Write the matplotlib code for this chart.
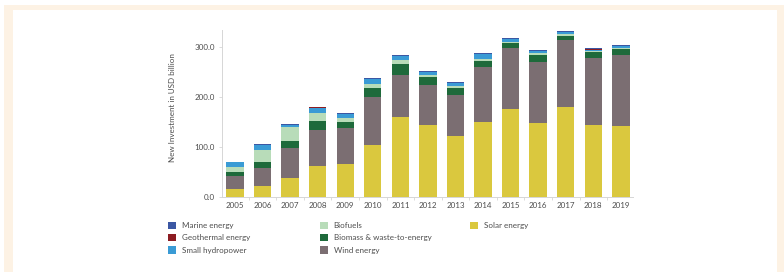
import numpy as np
import matplotlib.pyplot as plt
from matplotlib.patches import Rectangle
from matplotlib.ticker import FormatStrFormatter, FixedLocator

plt.rcParams['font.family'] = ['Lato', 'DejaVu Sans']

years = ['2005', '2006', '2007', '2008', '2009', '2010', '2011', '2012',
         '2013', '2014', '2015', '2016', '2017', '2018', '2019']

# USD billion (bottom to top of each stack)
solar = [15, 22, 38, 61, 65, 103, 160, 143, 121, 149, 177, 147, 181, 144, 141]
wind = [26, 35, 59, 73, 72, 97, 84, 81, 83, 112, 121, 124, 134, 134, 144]
biomass = [9, 12, 14, 17, 13, 18, 22, 16, 15, 12, 10, 14, 8, 12, 11]
biofuels = [9, 25, 28, 18, 8, 8, 8, 4.5, 4, 4, 3, 3, 3.5, 2.5, 2.5]
hydro = [10.5, 10, 4, 10, 7, 9.5, 8, 5, 5, 10, 5, 5, 4, 3, 3.5]
geothermal = [0.3, 0.3, 0.5, 0.3, 0.5, 0.5, 0.6, 0.6, 0.5, 0.5, 0.4, 0.5, 0.5, 0.4, 0.4]
marine = [0.5, 0.5, 2.5, 0.5, 2, 2.5, 2.5, 3, 2.5, 1.5, 2, 2, 2.5, 2, 1.5]

series = [
    ('Solar energy', solar, '#dac83e'),
    ('Wind energy', wind, '#7b6e72'),
    ('Biomass & waste-to-energy', biomass, '#1e6a3b'),
    ('Biofuels', biofuels, '#b8dcb9'),
    ('Small hydropower', hydro, '#3a9bd5'),
    ('Geothermal energy', geothermal, '#8c1c22'),
    ('Marine energy', marine, '#3b57a3'),
]

W, H = 784, 272
fig = plt.figure(figsize=(W / 100, H / 100), dpi=100)
fig.patch.set_facecolor('white')

# cream page frame behind the chart
fig.patches.append(Rectangle((4 / W, 0), 780 / W, 1 - 5 / H, transform=fig.transFigure,
                             facecolor='#fdf2e4', edgecolor='none', zorder=-2))
fig.patches.append(Rectangle((13 / W, 0), 764 / W, 1 - 10 / H, transform=fig.transFigure,
                             facecolor='white', edgecolor='none', zorder=-1))

ax = fig.add_axes([221.7 / W, 75.5 / H, (633 - 221.7) / W, 166.5 / H])
ax.set_facecolor('none')

x = np.arange(len(years))
bottom = np.zeros(len(years))
handles = {}
for name, vals, color in series:
    vals = np.array(vals, dtype=float)
    bars = ax.bar(x, vals, width=0.63, bottom=bottom, color=color, linewidth=0)
    handles[name] = bars
    bottom += vals

ax.set_xlim(-0.48, len(years) - 1 + 0.44)
ax.set_ylim(0, 335)
ax.set_yticks([0, 100, 200, 300])
ax.yaxis.set_major_formatter(FormatStrFormatter('%.1f'))
ax.set_xticks(x)
ax.set_xticklabels(years)
ax.xaxis.set_minor_locator(FixedLocator(x[:-1] + 0.5))

for s in ['top', 'right']:
    ax.spines[s].set_visible(False)
for s in ['left', 'bottom']:
    ax.spines[s].set_color('#d6d6d6')
    ax.spines[s].set_linewidth(0.7)

ax.tick_params(axis='x', which='major', length=0, pad=4, labelsize=5.8, labelcolor='#4d4d4d')
ax.tick_params(axis='x', which='minor', length=2, width=0.6, color='#d6d6d6')
ax.tick_params(axis='y', length=2, width=0.6, color='#d6d6d6', pad=3,
               labelsize=5.8, labelcolor='#4d4d4d')

fig.text(172.7 / W, 1 - 108 / H, 'New Investment in USD billion', rotation=90,
         ha='center', va='center', fontsize=5.8, color='#4d4d4d')

# legend in three columns
cols = [
    (168, ['Marine energy', 'Geothermal energy', 'Small hydropower']),
    (320, ['Biofuels', 'Biomass & waste-to-energy', 'Wind energy']),
    (470, ['Solar energy']),
]
for xpix, names in cols:
    fig.legend([handles[n] for n in names], names, loc='upper left',
               bbox_to_anchor=(xpix / W, 1 - 221.5 / H), frameon=False,
               fontsize=5.8, labelcolor='#4d4d4d', handlelength=1.05,
               handleheight=1.05, handletextpad=0.65, labelspacing=0.6,
               borderpad=0, borderaxespad=0)

fig.savefig('out.png', dpi=100)
